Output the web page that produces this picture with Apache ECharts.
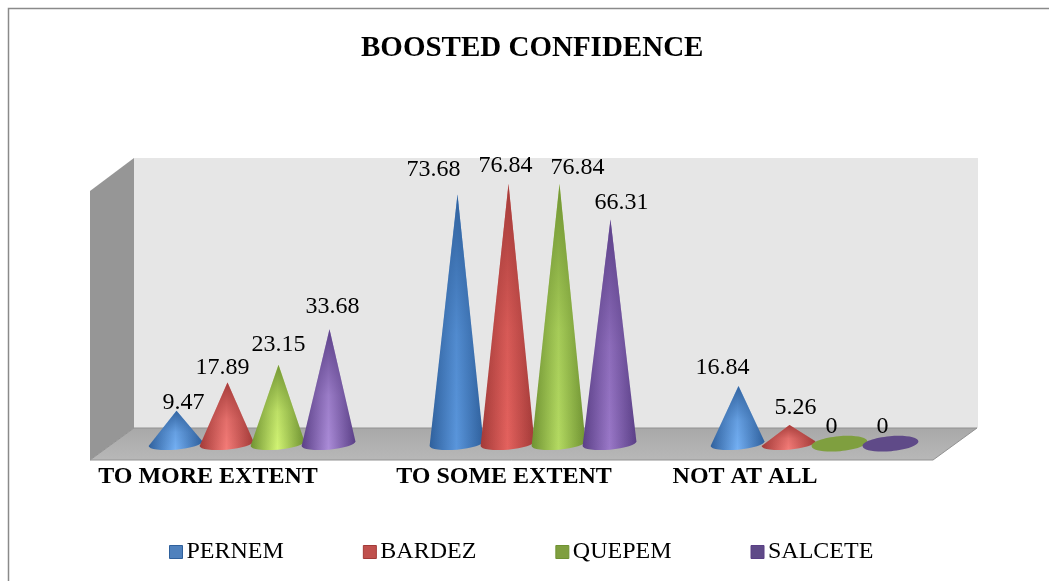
<!DOCTYPE html>
<html>
<head>
<meta charset="utf-8">
<title>BOOSTED CONFIDENCE</title>
<style>
  html, body { margin: 0; padding: 0; background: #fff; }
  #main { width: 1049px; height: 581px; }
</style>
<script src="https://cdn.jsdelivr.net/npm/echarts@6/dist/echarts.min.js"></script>
</head>
<body>
<div id="main"></div>
<script>
const categories = ['TO MORE EXTENT', 'TO SOME EXTENT', 'NOT AT ALL'];
const seriesNames = ['PERNEM', 'BARDEZ', 'QUEPEM', 'SALCETE'];
const pernem = [9.47, 73.68, 16.84];
const bardez = [17.89, 76.84, 5.26];
const quepem = [23.15, 76.84, 0];
const salcete = [33.68, 66.31, 0];
const seriesValues = [pernem, bardez, quepem, salcete];

// cone colours: edge, highlight on short cones, highlight on tall cones, flat base
const palette = [
  { edge: '#2f609c', light: '#74b0f4', tall: '#5a96dc', flat: '#4f81bd' },
  { edge: '#a23a38', light: '#f47c78', tall: '#e4625e', flat: '#c0504d' },
  { edge: '#6f9232', light: '#d2f474', tall: '#b4da62', flat: '#7f9f3f' },
  { edge: '#5a3f86', light: '#ab8cd8', tall: '#9a78c8', flat: '#5f4a88' }
];

// data labels do not sit straight above the tips in the original, [dx, dy] from the tip
// one row per series, one pair per category
const labelNudge = [
  [[7, -8], [-24, -25], [-16, -18]],
  [[-5, -15], [-3, -18], [6, -17]],
  [[0, -20], [18, -16], [-9, -16]],
  [[3, -23], [11, -17], [-9, -16]]
];
// x axis labels are shifted left of the band centre
const axisShift = [88, 58, 138];

const plot = { left: 111.5, width: 843, top: 173.3, height: 269.4 };
const stepRatio = 51 / 281;
const radiusRatio = 27 / 281;
const baseRy = 6;
const tilt = -5;
const serif = '"Liberation Serif", serif';

const option = {
  animation: false,
  backgroundColor: '#fff',
  textStyle: { fontFamily: serif },
  title: {
    text: 'BOOSTED CONFIDENCE',
    left: 356,
    top: 29,
    textStyle: { fontFamily: serif, fontSize: 29, fontWeight: 'bold', color: '#000' }
  },
  legend: {
    left: 164,
    top: 535,
    itemWidth: 13,
    itemHeight: 13,
    itemGap: 79,
    icon: 'rect',
    textStyle: { fontFamily: serif, fontSize: 24, color: '#000', padding: [0, 0, 0, -1] },
    data: seriesNames.map((name, i) => ({
      name: name,
      itemStyle: { color: palette[i].flat, borderColor: palette[i].edge, borderWidth: 1 }
    }))
  },
  grid: { left: plot.left, width: plot.width, top: plot.top, height: plot.height },
  xAxis: {
    type: 'category',
    data: categories,
    axisLine: { show: false },
    axisTick: { show: false },
    axisLabel: {
      margin: 22,
      interval: 0,
      formatter: (value, index) => '{c' + index + '|' + value + '}',
      rich: {
        c0: { fontFamily: serif, fontSize: 24, fontWeight: 'bold', color: '#000', padding: [0, axisShift[0], 0, 0] },
        c1: { fontFamily: serif, fontSize: 24, fontWeight: 'bold', color: '#000', padding: [0, axisShift[1], 0, 0] },
        c2: { fontFamily: serif, fontSize: 24, fontWeight: 'bold', color: '#000', padding: [0, axisShift[2], 0, 0] }
      }
    }
  },
  yAxis: { type: 'value', min: 0, max: 80, show: false },
  // the box behind the cones
  graphic: [
    { type: 'polyline', z: 0, silent: true, shape: { points: [[8.5, 581], [8.5, 8.5], [1049, 8.5]] }, style: { fill: 'none', stroke: '#8a8a8a', lineWidth: 1.5 } },
    { type: 'polygon', z: 0, silent: true, shape: { points: [[134, 158], [978, 158], [978, 428], [134, 428]] }, style: { fill: '#e6e6e6' } },
    { type: 'polygon', z: 0, silent: true, shape: { points: [[90, 191], [134, 158], [134, 428], [90, 460]] }, style: { fill: '#969696' } },
    {
      type: 'polygon', z: 0, silent: true,
      shape: { points: [[90, 460], [134, 428], [977, 428], [933, 460]] },
      style: { fill: new echarts.graphic.LinearGradient(0, 0, 0, 1, [{ offset: 0, color: '#a8a8a8' }, { offset: 1, color: '#b8b8b8' }]), stroke: '#929292', lineWidth: 1 }
    }
  ],
  series: seriesNames.map((name, s) => ({
    name: name,
    type: 'custom',
    z: 5,
    itemStyle: { color: palette[s].flat },
    encode: { x: 0, y: 1 },
    data: seriesValues[s].map((v, i) => [i, v]),
    renderItem: (params, api) => {
      const c = palette[s];
      const cat = api.value(0);
      const val = api.value(1);
      const band = api.size([1, 0])[0];
      const step = band * stepRatio;
      const rx = band * radiusRatio;
      const zero = api.coord([cat, 0]);
      const tip = api.coord([cat, val]);
      const cx = zero[0] + (s - 1.5) * step;
      const cy = zero[1] + 1;
      const ax = cx + 1;
      const ay = tip[1];
      const dx = rx * Math.cos(tilt * Math.PI / 180);
      const dy = rx * Math.sin(tilt * Math.PI / 180);
      const arc = 'A ' + rx + ' ' + baseRy + ' ' + tilt + ' 0 1 ' + (cx - dx) + ' ' + (cy - dy);
      const start = (cx + dx) + ' ' + (cy + dy);
      const nudge = labelNudge[s][cat];
      const children = [];
      if (val > 0) {
        const conePath = 'M ' + ax + ' ' + ay + ' L ' + start + ' ' + arc + ' Z';
        const light = val < 40 ? c.light : c.tall;
        children.push({
          type: 'path',
          shape: { pathData: conePath },
          style: {
            fill: new echarts.graphic.LinearGradient(0, 0, 1, 0, [
              { offset: 0, color: c.edge },
              { offset: 0.5, color: light },
              { offset: 1, color: c.edge }
            ])
          }
        });
        // darker towards the tip
        children.push({
          type: 'path',
          shape: { pathData: conePath },
          style: {
            fill: new echarts.graphic.LinearGradient(0, 0, 0, 1, [
              { offset: 0, color: echarts.color.modifyAlpha(c.edge, 0.95) },
              { offset: 0.55, color: echarts.color.modifyAlpha(c.edge, 0.2) },
              { offset: 1, color: echarts.color.modifyAlpha(c.edge, 0) }
            ])
          }
        });
      } else {
        children.push({
          type: 'ellipse',
          x: cx,
          y: cy,
          rotation: -tilt * Math.PI / 180,
          shape: { cx: 0, cy: 0, rx: rx + 1, ry: baseRy + 1.5 },
          style: { fill: c.flat }
        });
      }
      children.push({
        type: 'text',
        style: {
          text: String(val),
          x: ax + nudge[0],
          y: ay + nudge[1],
          align: 'center',
          verticalAlign: 'middle',
          fontFamily: serif,
          fontSize: 24,
          fill: '#000'
        }
      });
      return { type: 'group', children: children };
    }
  }))
};

const myChart = echarts.init(document.getElementById('main'), null, { renderer: 'canvas' });
myChart.setOption(option);
</script>
</body>
</html>
